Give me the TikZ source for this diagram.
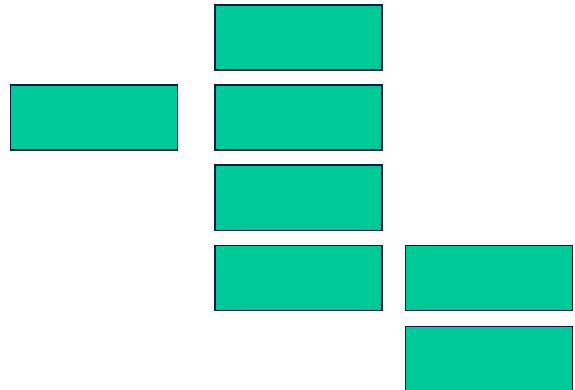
\documentclass[tikz,border=0pt]{standalone}
\definecolor{boxfill}{RGB}{0,201,152}
\definecolor{boxline}{RGB}{18,24,72}
\begin{document}
\begin{tikzpicture}[x=1pt,y=-1pt,
  greenbox/.style={draw=boxline,line width=1.6pt,fill=boxfill,inner sep=0pt,minimum width=167pt,minimum height=65pt,anchor=north west}]
\useasboundingbox (0,0) rectangle (575,390);
\node[greenbox] (m1) at (214,4.5) {};
\node[greenbox] (l1) at (9.5,84.5) {};
\node[greenbox] (m2) at (214,84.5) {};
\node[greenbox] (m3) at (214,164.5) {};
\node[greenbox] (m4) at (214,244.5) {};
\node[greenbox] (r1) at (404.5,244.5) {};
\node[greenbox] (r2) at (404.5,325.5) {};
\end{tikzpicture}
\end{document}
